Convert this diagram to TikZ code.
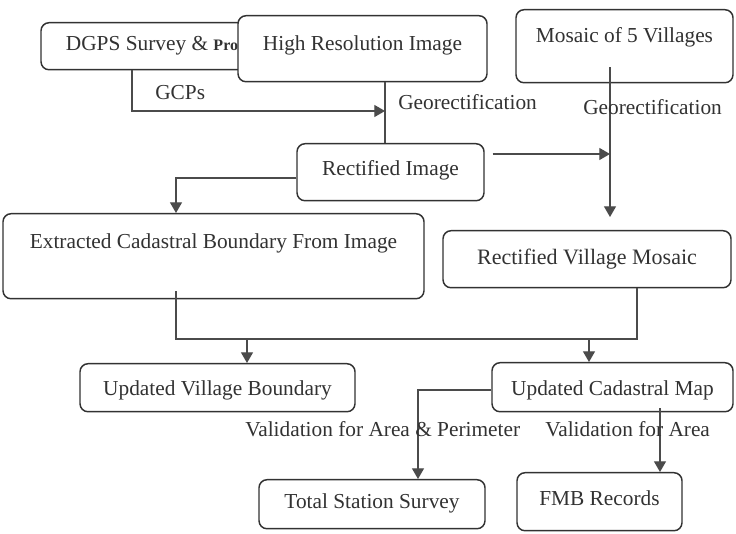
\documentclass[tikz,border=0pt]{standalone}
\usepackage{fontspec}
\setmainfont{Liberation Serif}
\usetikzlibrary{arrows.meta, positioning, calc}
\definecolor{scanInk}{RGB}{50,50,50}
\definecolor{scanLine}{RGB}{75,75,75}

\begin{document}
\begin{tikzpicture}[x=0.75pt, y=-0.75pt,
      stage/.style={rounded corners=6pt, draw=scanInk, line width=1.1pt, fill=white, inner xsep=0pt, inner ysep=0pt,
      anchor=north, text=scanInk, font=\fontsize{16}{19}\selectfont},
      note/.style={anchor=base west, inner sep=0pt, text=scanInk, font=\fontsize{16}{19}\selectfont},
      link/.style={draw=scanLine, line width=0.9pt},
      arrow/.style={link, -{Triangle[length=8pt, width=9pt]}}
    ]
    \useasboundingbox (0,0) rectangle (736,534);

    \node[stage, minimum width=166.5pt, text height=21pt, text depth=14.25pt] (dgps) at (152,22) {DGPS Survey \& {\fontsize{12}{14}\selectfont\bfseries Pro}};
    \node[stage, minimum width=186.75pt, text height=26.25pt, text depth=23.25pt] (hires) at (362.5,15) {High Resolution Image};
    \node[stage, minimum width=162.75pt, text height=24.75pt, text depth=30pt] (mosaic) at (624.5,9) {Mosaic of 5 Villages};
    \node[stage, minimum width=140.25pt, text height=24pt, text depth=18.75pt] (rect) at (390.5,143) {Rectified Image};
    \node[stage, minimum width=315.75pt, text height=26.25pt, text depth=37.5pt] (extr) at (213.5,213) {Extracted Cadastral Boundary From Image};
    \node[stage, minimum width=216pt, text height=25.5pt, text depth=17.25pt, font=\fontsize{16.5}{19}\selectfont] (rvm) at (587,230) {Rectified Village Mosaic};
    \node[stage, minimum width=206.25pt, text height=24pt, text depth=12pt] (uvb) at (217.5,363) {Updated Village Boundary};
    \node[stage, minimum width=180.75pt, text height=24.75pt, text depth=12pt] (ucm) at (612.5,362) {Updated Cadastral Map};
    \node[stage, minimum width=169.5pt, text height=21.75pt, text depth=15pt] (tss) at (372,479) {Total Station Survey};
    \node[stage, minimum width=123.75pt, text height=24.75pt, text depth=18.75pt] (fmb) at (599.5,472) {FMB Records};

    \coordinate (gcpBend) at (132,111);
    \coordinate (geoA) at (385,111);
    \coordinate (imgBend) at (176,178);
    \coordinate (geoB) at (610,154);
    \coordinate (mergeL) at (176,339);
    \coordinate (mergeR) at (637,339);
    \coordinate (dropL) at (247,339);
    \coordinate (dropR) at (589,339);
    \coordinate (valBend) at (418,390);
    \coordinate (fmbDrop) at (660,0);

    \draw[arrow] (dgps.south -| gcpBend) |- (geoA);
    \draw[link] (hires.south -| geoA) -- (rect.north -| geoA);
    \draw[arrow] (rect.west |- imgBend) -| (extr.north -| imgBend);
    \draw[arrow] ([xshift=6pt]rect.east |- geoB) -- (geoB);
    \draw[arrow, shorten >=9.75pt] ([yshift=12pt]mosaic.south -| geoB) -- (rvm.north -| geoB);
    \draw[link] ([yshift=6pt]extr.south -| mergeL) |- (mergeR) -- (rvm.south -| mergeR);
    \draw[arrow] (dropL) -- (uvb.north -| dropL);
    \draw[arrow] (dropR) -- (ucm.north -| dropR);
    \draw[arrow] (ucm.west |- valBend) -| (tss.north -| valBend);
    \draw[arrow] ([yshift=3pt]ucm.south -| fmbDrop) -- (fmb.north -| fmbDrop);

    \node[note] (gcps) at (155,100) {GCPs};
    \node[note] (georectA) at (398,110) {Georectification};
    \node[note] (georectB) at (583,115) {Georectification};
    \node[note] (valAP) at (245,437) {Validation for Area \& Perimeter};
    \node[note] (valA) at (545,437) {Validation for Area};
  \end{tikzpicture}
\end{document}
